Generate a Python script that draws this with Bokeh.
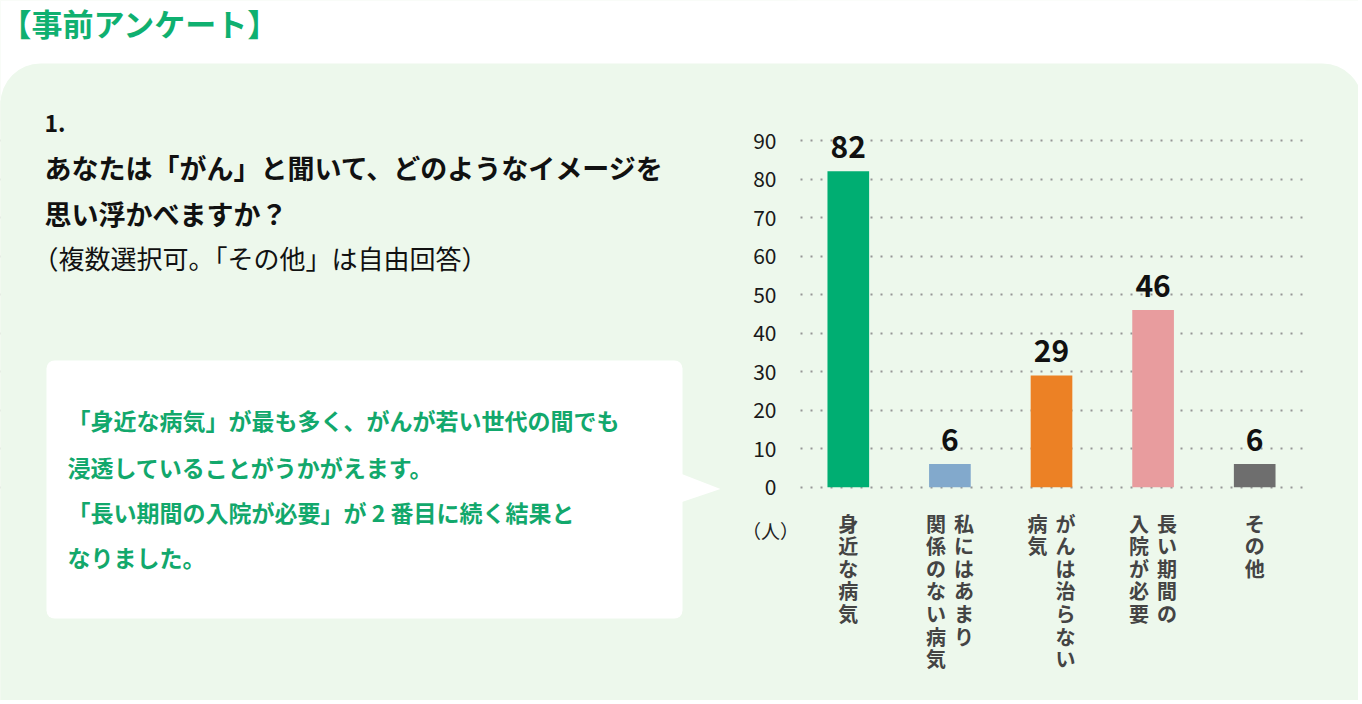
from bokeh.plotting import figure
from bokeh.models import (Range1d, FixedTicker, BoxAnnotation, PolyAnnotation,
                          Label, ColumnDataSource)
from bokeh.embed import file_html
from bokeh.resources import INLINE
from bokeh.core.properties import value

# ---------------- data ----------------
CATEGORIES = ["身近な病気", "私にはあまり関係のない病気", "がんは治らない病気",
              "長い期間の入院が必要", "その他"]
# vertical label columns (right column is read first)
CATEGORY_COLUMNS = [["身近な病気"],
                    ["私にはあまり", "関係のない病気"],
                    ["がんは治らない", "病気"],
                    ["長い期間の", "入院が必要"],
                    ["その他"]]
COUNTS = [82, 6, 29, 46, 6]
BAR_COLORS = ["#00ae72", "#82a9cc", "#ec8125", "#e89c9e", "#6e6e6e"]
Y_TICKS = [0, 10, 20, 30, 40, 50, 60, 70, 80, 90]
UNIT_LABEL = "（人）"

TITLE = "【事前アンケート】"
QUESTION_NUMBER = "1."
QUESTION_LINES = ["あなたは「がん」と聞いて、どのようなイメージを",
                  "思い浮かべますか？"]
QUESTION_NOTE = "（複数選択可。「その他」は自由回答）"
COMMENT_LINES = ["「身近な病気」が最も多く、がんが若い世代の間でも",
                 "浸透していることがうかがえます。",
                 "「長い期間の入院が必要」が 2 番目に続く結果と",
                 "なりました。"]

# ---------------- style / layout ----------------
FONT = "Noto Sans CJK JP"
BG = "#edf8ec"
GREEN_TEXT = "#12a86c"
TITLE_GREEN = "#0fb070"

W, H = 1358, 700
CHART_LEFT, CHART_RIGHT = 797, 1305     # pixel extent of the plotting area
Y0_PX, Y90_PX = 486.7, 140.0            # pixel rows of 0 and 90
X_UNIT = (CHART_RIGHT - CHART_LEFT) / len(CATEGORIES)
Y_UNIT = (Y0_PX - Y90_PX) / 90.0


def sx(px):
    return px


def sy(py):
    return H - py


p = figure(width=W, height=H, output_backend="svg", toolbar_location=None,
           x_axis_location=None,
           x_range=Range1d(-CHART_LEFT / X_UNIT, (W - CHART_LEFT) / X_UNIT),
           y_range=Range1d(-(H - Y0_PX) / Y_UNIT, Y0_PX / Y_UNIT),
           min_border=0, title=None)
p.background_fill_color = BG
p.border_fill_color = BG
p.outline_line_color = None
for g in p.xgrid:
    g.visible = False

yaxis = p.yaxis[0]
yaxis.fixed_location = 0
yaxis.ticker = FixedTicker(ticks=Y_TICKS)
yaxis.axis_line_color = None
yaxis.major_tick_line_color = None
yaxis.minor_tick_line_color = None
yaxis.major_tick_out = 0
yaxis.major_tick_in = 0
yaxis.major_label_standoff = 21
yaxis.major_label_text_font = FONT
yaxis.major_label_text_font_size = "21px"
yaxis.major_label_text_color = "#1a1a1a"

ygrid = p.ygrid[0]
ygrid.ticker = FixedTicker(ticks=Y_TICKS)
ygrid.grid_line_dash = "2 8"
ygrid.grid_line_width = 2
ygrid.grid_line_color = "#969696"


def box(l, r, t, b, color, radius=0):
    return BoxAnnotation(left=sx(l), right=sx(r), top=sy(t), bottom=sy(b),
                         left_units="screen", right_units="screen",
                         top_units="screen", bottom_units="screen",
                         fill_color=color, fill_alpha=1.0, line_color=None,
                         border_radius=radius, level="underlay")


# masks limiting the dotted grid to the chart area
p.add_layout(box(-20, CHART_LEFT, -20, H + 20, BG))
p.add_layout(box(CHART_RIGHT, W + 20, -20, H + 20, BG))
# white page strip and rounded top of the green panel
p.add_layout(box(-20, W + 20, -20, 100, "white"))
p.add_layout(box(0, 1362, 63, 120, BG, (40, 40, 0, 0)))
# callout
p.add_layout(box(46, 682, 360, 618, "white", 8))
p.add_layout(PolyAnnotation(xs=[sx(680), sx(720), sx(680)],
                            ys=[sy(473), sy(488.5), sy(502)],
                            xs_units="screen", ys_units="screen",
                            fill_color="white", fill_alpha=1.0, line_color=None,
                            level="underlay"))


def label(text, x, y, size, color, bold=True, align="left", baseline="middle"):
    return Label(x=sx(x), y=sy(y), x_units="screen", y_units="screen",
                 text=text, text_font=FONT, text_font_size=size,
                 text_font_style="bold" if bold else "normal",
                 text_color=color, text_align=align, text_baseline=baseline)


p.add_layout(label(TITLE, 0, 22, "31px", TITLE_GREEN))
p.add_layout(label(QUESTION_NUMBER, 44, 123, "23px", "#111111"))
for line, ry in zip(QUESTION_LINES, [167, 212.5]):
    p.add_layout(label(line, 44, ry, "27px", "#111111"))
p.add_layout(label(QUESTION_NOTE, 32, 257, "26px", "#111111", bold=False))
for line, ry in zip(COMMENT_LINES, [419, 466, 511, 556]):
    p.add_layout(label(line, 67, ry, "23px", GREEN_TEXT))

# ---------------- chart ----------------
src = ColumnDataSource(dict(x=[i + 0.5 for i in range(len(CATEGORIES))],
                            top=COUNTS, color=BAR_COLORS,
                            label=[str(v) for v in COUNTS]))
p.vbar(x="x", top="top", bottom=0, width=0.41, fill_color="color",
       line_color=None, source=src)
p.text(x="x", y="top", text="label", source=src, text_font=value(FONT),
       text_font_size="30px", text_font_style="bold", text_color="#111111",
       text_align="center", text_baseline="alphabetic", y_offset=-24)

p.add_layout(label(UNIT_LABEL, 770, 530, "19px", "#222222", bold=False,
                   align="center"))

for i, cols in enumerate(CATEGORY_COLUMNS):
    k = len(cols)
    for j, col in enumerate(cols):
        off = (k - 1) / 2 * 28 - j * 28
        p.add_layout(Label(x=i + 0.5, x_units="data", y=sy(508), y_units="screen",
                           x_offset=off, text="\n".join(col), text_font=FONT,
                           text_font_size="20px", text_font_style="bold",
                           text_color="#444444", text_align="center",
                           text_baseline="top", text_line_height=0.78))

open("out.html", "w").write(file_html(p, INLINE))
